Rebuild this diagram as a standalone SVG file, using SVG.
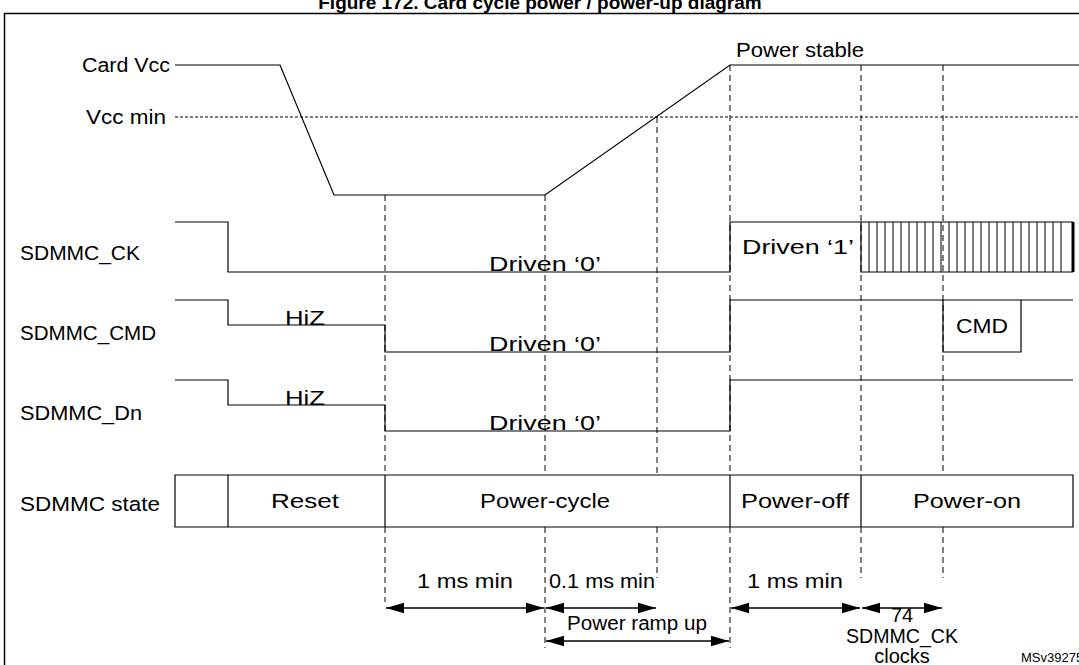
<svg xmlns="http://www.w3.org/2000/svg" width="1079" height="665" viewBox="0 0 1079 665">
<defs>
<style>
text{font-family:"Liberation Sans",Arial,sans-serif;font-size:20px;fill:#000}
.m{text-anchor:middle}.e{text-anchor:end}
.s{fill:none;stroke:#000;stroke-width:1.2}
.d{fill:none;stroke:#000;stroke-width:1;stroke-dasharray:6,4}
.dd{fill:none;stroke:#000;stroke-width:1;stroke-dasharray:3,2}
.a{stroke:#000;stroke-width:1.5;marker-start:url(#ah);marker-end:url(#ah)}
</style>
<marker id="ah" viewBox="0 0 10 10" refX="10" refY="5" markerWidth="18" markerHeight="13" markerUnits="userSpaceOnUse" orient="auto-start-reverse" preserveAspectRatio="none"><path d="M0,1 L10,5 L0,9 Z" fill="#000"/></marker>
</defs>
<rect width="1079" height="665" fill="#fff"/>
<text x="540" y="9" class="m" style="font-weight:bold;font-size:19px">Figure 172. Card cycle power / power-up diagram</text>
<rect x="4.5" y="13.5" width="1080" height="660" fill="none" stroke="#000" stroke-width="1.5"/>
<g id="labels">
<text x="170" y="72" class="e" textLength="88" lengthAdjust="spacingAndGlyphs">Card Vcc</text>
<text x="166" y="124" class="e" textLength="80" lengthAdjust="spacingAndGlyphs">Vcc min</text>
<text x="20" y="260" textLength="120" lengthAdjust="spacingAndGlyphs">SDMMC_CK</text>
<text x="20" y="340" textLength="136" lengthAdjust="spacingAndGlyphs">SDMMC_CMD</text>
<text x="20" y="420" textLength="122" lengthAdjust="spacingAndGlyphs">SDMMC_Dn</text>
<text x="20" y="511" textLength="140" lengthAdjust="spacingAndGlyphs">SDMMC state</text>
<text x="800" y="57" class="m" textLength="128" lengthAdjust="spacingAndGlyphs">Power stable</text>
</g>
<g id="connectors">
<path class="dd" d="M175,117 H1079"/>
<path class="d" d="M385,195 V475 M385,527 V602 M545,195 V475 M545,527 V648 M657,117 V475 M657,527 V578 M730,65 V475 M730,527 V648 M861,65 V475 M861,527 V578 M943,65 V475 M943,527 V578"/>
<path class="s" d="M175,65 H280 L334,195 H545 L730,65 H1079"/>
<path class="s" d="M175,222 H228 V272 H730 V222 H1073 M861,222 V272 H1073"/>
<path stroke="#000" stroke-width="1" d="M869,222V272M877,222V272M885,222V272M893,222V272M901,222V272M909,222V272M917,222V272M925,222V272M933,222V272M941,222V272M949,222V272M957,222V272M965,222V272M973,222V272M981,222V272M989,222V272M997,222V272M1005,222V272M1013,222V272M1021,222V272M1029,222V272M1037,222V272M1045,222V272M1053,222V272M1061,222V272"/>
<path stroke="#000" stroke-width="3" d="M1073,222V272"/>
<path class="s" d="M175,300 H228 V325 H385 V352 H730 V300 H1073"/>
<path class="s" d="M943,300 V352 H1021 V300"/>
<path class="s" d="M175,380 H228 V405 H385 V431 H730 V380 H1073"/>
<path class="s" d="M175,475 H1073 V527 H175 Z M228,475 V527 M385,475 V527 M730,475 V527 M861,475 V527"/>
<line class="a" x1="386" y1="608" x2="544" y2="608"/>
<line class="a" x1="546" y1="608" x2="656" y2="608"/>
<line class="a" x1="731" y1="608" x2="860" y2="608"/>
<line class="a" x1="862" y1="608" x2="942" y2="608"/>
<line class="a" x1="546" y1="641" x2="729" y2="641"/>
</g>
<g id="texts">
<text x="545" y="271" class="m" textLength="112" lengthAdjust="spacingAndGlyphs">Driven ‘0’</text>
<text x="798" y="254" class="m" textLength="112" lengthAdjust="spacingAndGlyphs">Driven ‘1’</text>
<text x="305" y="325" class="m" textLength="40" lengthAdjust="spacingAndGlyphs">HiZ</text>
<text x="545" y="351" class="m" textLength="112" lengthAdjust="spacingAndGlyphs">Driven ‘0’</text>
<text x="982" y="333" class="m" textLength="52" lengthAdjust="spacingAndGlyphs">CMD</text>
<text x="305" y="405" class="m" textLength="40" lengthAdjust="spacingAndGlyphs">HiZ</text>
<text x="545" y="430" class="m" textLength="112" lengthAdjust="spacingAndGlyphs">Driven ‘0’</text>
<text x="305" y="508" class="m" textLength="68" lengthAdjust="spacingAndGlyphs">Reset</text>
<text x="545" y="508" class="m" textLength="130" lengthAdjust="spacingAndGlyphs">Power-cycle</text>
<text x="795" y="508" class="m" textLength="108" lengthAdjust="spacingAndGlyphs">Power-off</text>
<text x="967" y="508" class="m" textLength="108" lengthAdjust="spacingAndGlyphs">Power-on</text>
<text x="465" y="588" class="m" textLength="96" lengthAdjust="spacingAndGlyphs">1 ms min</text>
<text x="602" y="588" class="m" textLength="106" lengthAdjust="spacingAndGlyphs">0.1 ms min</text>
<text x="795" y="588" class="m" textLength="96" lengthAdjust="spacingAndGlyphs">1 ms min</text>
<text x="902" y="622" class="m">74</text>
<text x="637" y="630" class="m" textLength="140" lengthAdjust="spacingAndGlyphs">Power ramp up</text>
<text x="902" y="643" class="m" textLength="112" lengthAdjust="spacingAndGlyphs">SDMMC_CK</text>
<text x="902" y="663" class="m">clocks</text>
<text x="1021" y="662" style="font-size:13px">MSv39275V1</text>
</g>
</svg>
